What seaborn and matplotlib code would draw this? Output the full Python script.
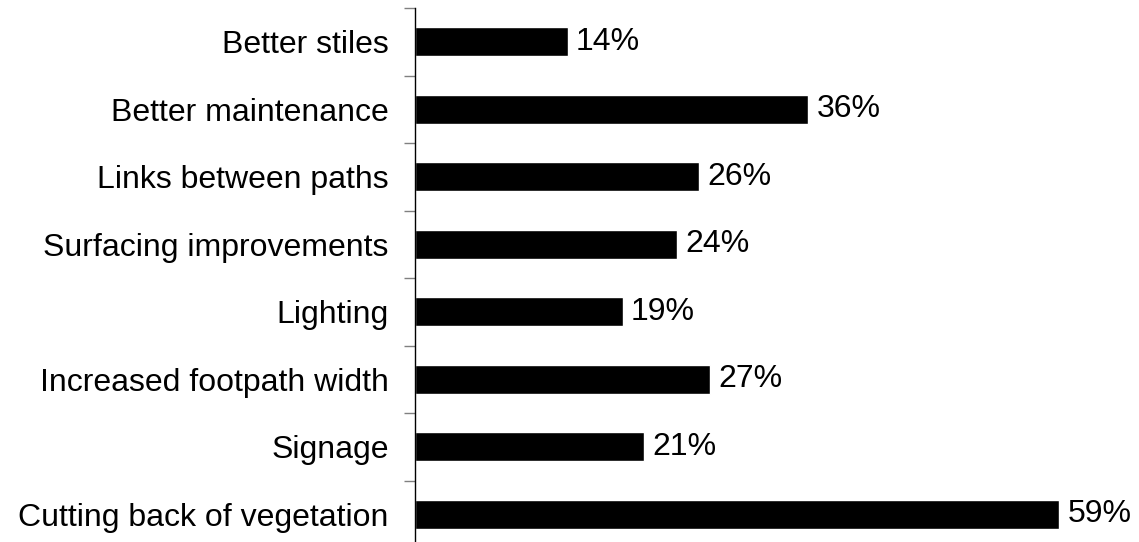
import numpy as np
import pandas as pd
import matplotlib.pyplot as plt
import seaborn as sns

categories = ["Better stiles", "Better maintenance", "Links between paths",
              "Surfacing improvements", "Lighting", "Increased footpath width",
              "Signage", "Cutting back of vegetation"]
percent = [14, 36, 26, 24, 19, 27, 21, 59]

df = pd.DataFrame({"category": categories, "percent": percent})

sns.set_style("white")
plt.rcParams['font.family'] = ['Liberation Sans', 'DejaVu Sans']
plt.rcParams['text.color'] = 'black'
plt.rcParams['ytick.color'] = 'black'

fig = plt.figure(figsize=(11.39, 5.42), dpi=100)
ax = fig.add_axes([415 / 1139, -6 / 542, 710 / 1139, 540 / 542])

sns.barplot(data=df, x="percent", y="category", color="black", width=0.43,
            orient="h", ax=ax, saturation=1)

for i, v in enumerate(percent):
    ax.text(v + 0.75, i, f"{v}%", va="center", ha="left", fontsize=23,
            color="black")

ax.set_xlim(0, 65)
ax.set_ylim(len(categories) - 0.5, -0.5)
ax.set_xlabel("")
ax.set_ylabel("")
ax.set_xticks([])
ax.tick_params(axis="y", which="major", length=0, labelsize=23, pad=19,
               labelcolor="black")
ax.set_yticks(np.arange(-0.5, len(categories)), minor=True)
ax.tick_params(axis="y", which="minor", left=True, length=8, width=1,
               color="#808080")
for s in ["top", "right", "bottom"]:
    ax.spines[s].set_visible(False)
ax.spines["left"].set_color("black")
ax.spines["left"].set_linewidth(1)

fig.savefig("out.png", dpi=100)
